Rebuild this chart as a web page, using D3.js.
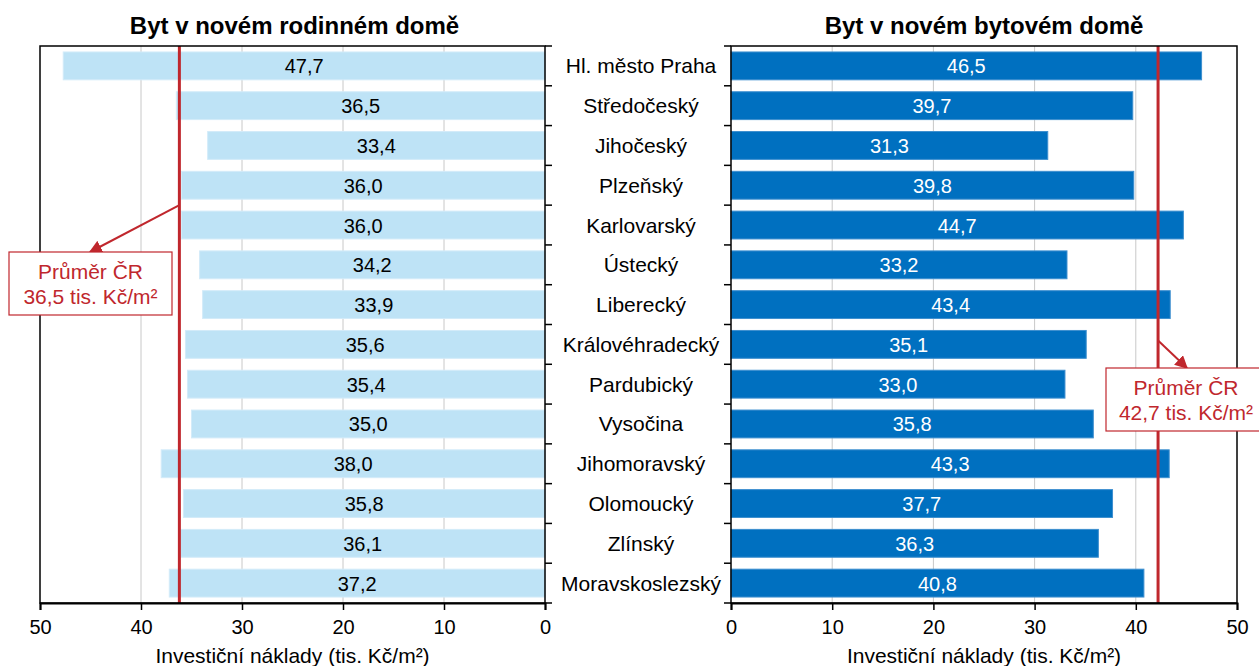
<!DOCTYPE html>
<html>
<head>
<meta charset="utf-8">
<title>Byt v novém domě</title>
<script src="https://cdn.jsdelivr.net/npm/d3@7"></script>
<style>
  body { margin: 0; background: #fff; }
  text { font-family: "Liberation Sans", Arial, sans-serif; fill: #000; }
</style>
</head>
<body>
<svg id="chart" width="1259" height="666"></svg>
<script>
// data
var regions = ['Hl. město Praha', 'Středočeský', 'Jihočeský', 'Plzeňský', 'Karlovarský', 'Ústecký',
  'Liberecký', 'Královéhradecký', 'Pardubický', 'Vysočina', 'Jihomoravský', 'Olomoucký', 'Zlínský', 'Moravskoslezský'];
var rodinny = [47.7, 36.5, 33.4, 36.0, 36.0, 34.2, 33.9, 35.6, 35.4, 35.0, 38.0, 35.8, 36.1, 37.2];
var bytovy = [46.5, 39.7, 31.3, 39.8, 44.7, 33.2, 43.4, 35.1, 33.0, 35.8, 43.3, 37.7, 36.3, 40.8];
var ticks = [0, 10, 20, 30, 40, 50];
var titles = ['Byt v novém rodinném domě', 'Byt v novém bytovém domě'];
var avgLabel = ['36,5', '42,7'];
var avgLine = [36.2, 42.2];   // where the red lines sit in the picture

(function() {
  var svg = d3.select('#chart');
  var red = '#C0272D';
  var fmt = function(v) { return d3.format('.1f')(v).replace('.', ','); };

  var pTop = 46, pBottom = 603;
  var step = (pBottom - pTop) / regions.length;
  var y = d3.scaleBand().domain(regions).range([pTop, pBottom]).paddingInner(0.3).paddingOuter(0.15);
  var xL = d3.scaleLinear().domain([0, 50]).range([545, 40]);
  var xR = d3.scaleLinear().domain([0, 50]).range([731, 1237]);

  function label(g, x, yy, str, size, opts) {
    opts = opts || {};
    var t = g.append('text')
      .attr('x', x).attr('y', yy)
      .attr('text-anchor', opts.anchor || 'middle')
      .style('font-size', size + 'px')
      .style('font-weight', opts.bold ? 'bold' : 'normal')
      .text(str);
    if (opts.fill) t.style('fill', opts.fill);
    return t;
  }

  svg.append('defs').append('marker')
    .attr('id', 'arrow').attr('viewBox', '0 0 10 10')
    .attr('refX', 9).attr('refY', 5)
    .attr('markerWidth', 6.5).attr('markerHeight', 6.5)
    .attr('orient', 'auto')
    .append('path').attr('d', 'M0,0 L10,5 L0,10 z').attr('fill', red);

  function panel(x, data, barFill, textFill, side, idx) {
    var g = svg.append('g');
    var x0 = x(0), x50 = x(50);
    var lo = Math.min(x0, x50), hi = Math.max(x0, x50);

    // grid
    g.selectAll('.grid').data([10, 20, 30, 40]).enter().append('line')
      .attr('x1', function(d) { return x(d); }).attr('x2', function(d) { return x(d); })
      .attr('y1', pTop).attr('y2', pBottom)
      .attr('stroke', '#c8c8c8').attr('stroke-width', 1);

    // bars
    g.selectAll('.bar').data(data).enter().append('rect')
      .attr('x', function(d) { return Math.min(x(0), x(d)); })
      .attr('y', function(d, i) { return y(regions[i]); })
      .attr('width', function(d) { return Math.abs(x(d) - x(0)); })
      .attr('height', y.bandwidth())
      .attr('fill', barFill)
      .attr('stroke', side === 'left' ? '#d3ebf9' : '#3d8fcf')
      .attr('stroke-width', 1);

    // value labels
    data.forEach(function(d, i) {
      label(g, (x(0) + x(d)) / 2, y(regions[i]) + y.bandwidth() / 2 + 7.5, fmt(d), 20, { fill: textFill });
    });

    // average line
    g.append('line')
      .attr('x1', x(avgLine[idx])).attr('x2', x(avgLine[idx]))
      .attr('y1', pTop).attr('y2', pBottom)
      .attr('stroke', red).attr('stroke-width', 3);

    // frame
    g.append('rect').attr('x', lo).attr('y', pTop).attr('width', hi - lo).attr('height', pBottom - pTop)
      .attr('fill', 'none').attr('stroke', '#000').attr('stroke-width', 1.5);

    // category ticks on the inner axis
    var bounds = d3.range(regions.length + 1).map(function(i) { return pTop + i * step; });
    g.selectAll('.ctick').data(bounds).enter().append('line')
      .attr('x1', x0).attr('x2', side === 'left' ? x0 + 7 : x0 - 7)
      .attr('y1', function(d) { return d; }).attr('y2', function(d) { return d; })
      .attr('stroke', '#000').attr('stroke-width', 1.5);

    // x axis
    var ax = g.append('g').attr('transform', 'translate(0,' + pBottom + ')')
      .call(d3.axisBottom(x).tickValues(ticks).tickSize(7).tickFormat(d3.format('d')));
    ax.select('.domain').attr('stroke', '#000').attr('stroke-width', 2);
    ax.selectAll('.tick line').attr('stroke', '#000').attr('stroke-width', 1.5);
    ax.selectAll('.tick text')
      .attr('y', 31).attr('dy', 0)
      .style('font-size', '20px').style('font-family', '"Liberation Sans", Arial, sans-serif').attr('fill', '#000');

    // axis title
    label(g, (lo + hi) / 2, 663, 'Investiční náklady (tis. Kč/m²)', 21);

    // panel title
    label(g, (lo + hi) / 2 + (side === 'left' ? 2 : 0), 34, titles[idx], 24, { bold: true });
  }

  panel(xL, rodinny, '#bee3f6', '#000', 'left', 0);
  panel(xR, bytovy, '#0070c0', '#fff', 'right', 1);

  // category labels
  regions.forEach(function(r) {
    label(svg, 641, y(r) + y.bandwidth() / 2 + 7.5, r, 21);
  });

  // annotations
  function note(bx, by, bw, bh, xLine, yStart, xEnd, txt) {
    var g = svg.append('g');
    g.append('line')
      .attr('x1', xLine).attr('y1', yStart).attr('x2', xEnd).attr('y2', by)
      .attr('stroke', red).attr('stroke-width', 2).attr('marker-end', 'url(#arrow)');
    g.append('rect').attr('x', bx).attr('y', by).attr('width', bw).attr('height', bh)
      .attr('fill', '#fff').attr('stroke', red).attr('stroke-width', 1.2);
    label(g, bx + bw / 2, by + 27, 'Průměr ČR', 21, { fill: red });
    label(g, bx + bw / 2, by + 52, txt + ' tis. Kč/m²', 21, { fill: red });
  }
  note(9, 252, 163, 63, xL(avgLine[0]), pTop + 4 * step, 90, avgLabel[0]);
  note(1106, 368, 160, 63, xR(avgLine[1]), pTop + 7.4 * step, 1187, avgLabel[1]);
})();
</script>
</body>
</html>
